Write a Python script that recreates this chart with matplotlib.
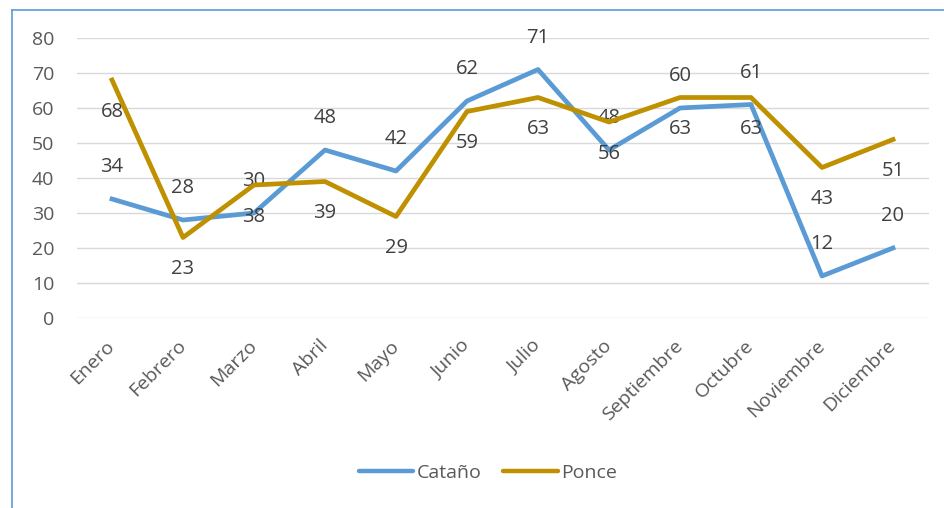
import matplotlib
matplotlib.use("Agg")
import matplotlib.pyplot as plt
from matplotlib.lines import Line2D
import numpy as np

# datos
meses = ["Enero", "Febrero", "Marzo", "Abril", "Mayo", "Junio", "Julio",
         "Agosto", "Septiembre", "Octubre", "Noviembre", "Diciembre"]
catano = [34, 28, 30, 48, 42, 62, 71, 48, 60, 61, 12, 20]
ponce = [68, 23, 38, 39, 29, 59, 63, 56, 63, 63, 43, 51]
y_ticks = [0, 10, 20, 30, 40, 50, 60, 70, 80]

AZUL = "#5B9BD5"
ORO = "#BF9000"
GRIS = "#595959"

plt.rcParams["font.family"] = ["Open Sans", "DejaVu Sans"]
FS = 14

fig = plt.figure(figsize=(9.45, 5.08), dpi=100)
ax = fig.add_axes([76.5 / 945, 1 - 318 / 508, 852 / 945, 280 / 508])

x = np.arange(len(meses))
ax.plot(x, catano, color=AZUL, lw=3.4, solid_joinstyle="round", label="Cataño", zorder=3)
ax.plot(x, ponce, color=ORO, lw=3.4, solid_joinstyle="round", label="Ponce", zorder=4)

# etiquetas de datos: Cataño arriba, Ponce abajo
for i, v in enumerate(catano):
    ax.annotate(str(v), (x[i], v), xytext=(0, 23), textcoords="offset points",
                ha="center", va="center", fontsize=FS + 0.5, color="#404040")
for i, v in enumerate(ponce):
    ax.annotate(str(v), (x[i], v), xytext=(0, -23), textcoords="offset points",
                ha="center", va="center", fontsize=FS + 0.5, color="#404040")

ax.set_xlim(-0.5, len(meses) - 0.5)
ax.set_ylim(0, 80)
ax.set_yticks(y_ticks)
ax.set_xticks(x)
ax.set_xticklabels(meses, rotation=45, ha="right", va="center",
                   rotation_mode="anchor")
ax.tick_params(axis="y", length=0, pad=16, labelsize=FS, labelcolor=GRIS)
ax.tick_params(axis="x", length=0, pad=18, labelsize=FS, labelcolor=GRIS)
ax.grid(axis="y", color="#D9D9D9", lw=1.0)
ax.set_axisbelow(True)
for s in ax.spines.values():
    s.set_visible(False)

leg = fig.legend(loc="center", bbox_to_anchor=(488 / 945, 1 - 473 / 508),
                 ncol=2, frameon=False, fontsize=FS, handlelength=2.8,
                 handletextpad=0.2, columnspacing=1.1)
for t in leg.get_texts():
    t.set_color(GRIS)
for h in leg.get_lines():
    h.set_linewidth(3.2)
    h.set_solid_capstyle("round")

# borde del gráfico
bx = 12 / 945
by = 1 - 10 / 508
fig.add_artist(Line2D([bx, bx], [0, by], transform=fig.transFigure, color=AZUL, lw=1.2))
fig.add_artist(Line2D([bx, 1], [by, by], transform=fig.transFigure, color=AZUL, lw=1.2))

fig.savefig("out.png", dpi=100)
